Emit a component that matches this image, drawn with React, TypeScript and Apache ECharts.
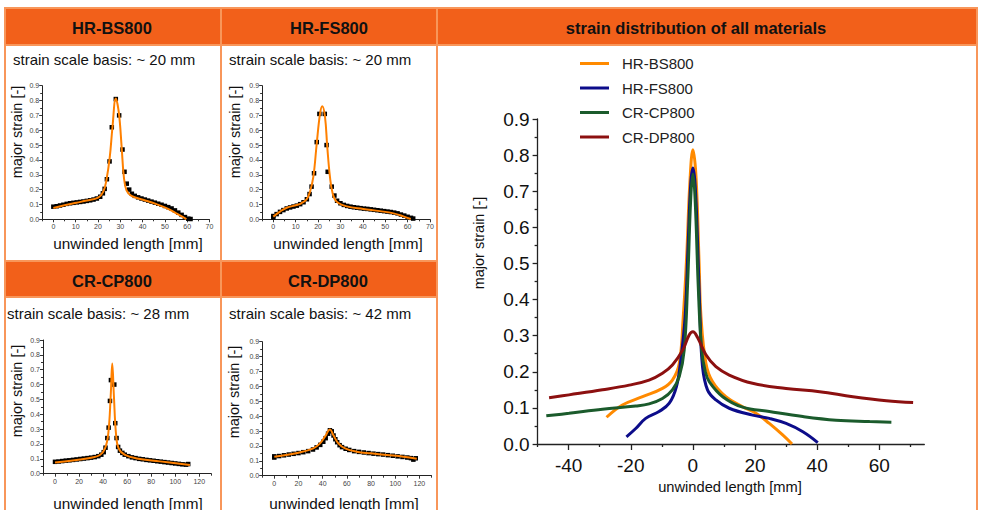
import React, { useEffect, useRef } from 'react';
import * as echarts from 'echarts';

const FONT = '"Liberation Sans", Arial, Helvetica, sans-serif';

// ---------- data ----------
const materials = ['HR-BS800', 'HR-FS800', 'CR-CP800', 'CR-DP800'];
const scaleBasis = [
  'strain scale basis: ~ 20 mm',
  'strain scale basis: ~ 20 mm',
  'strain scale basis: ~ 28 mm',
  'strain scale basis: ~ 42 mm',
];
const bigTitle = 'strain distribution of all materials';
const xName = 'unwinded length [mm]';
const yName = 'major strain [-]';

const yMax = 0.9;
const yStep = 0.1;
const xTicksShort = [0, 10, 20, 30, 40, 50, 60, 70];
const xMinorShort = [-5, 5, 15, 25, 35, 45, 55, 65];
const xTicksLong = [0, 20, 40, 60, 80, 100, 120];
const xMinorLong = [-10, 10, 30, 50, 70, 90, 110, 130];
const xTicksAll = [-40, -20, 0, 20, 40, 60];
const xMinorAll = [-50, -30, -10, 10, 30, 50, 70];
const xRangeShort = [-5, 70];
const xRangeLong = [-10, 130];
const xRangeAll = [-50, 74.5];

// measured points (black squares), unwinded length [mm] vs major strain
const measBS = [[0,0.085],[1.5,0.088],[3,0.093],[4.5,0.098],[6,0.104],[7.5,0.108],[9,0.111],[10.5,0.114],[12,0.117],[13.5,0.12],[15,0.124],[16.5,0.128],[18,0.133],[19.5,0.14],[21,0.152],[22.2,0.175],[23,0.205],[24,0.27],[25.2,0.39],[26.2,0.62],[28,0.81],[29.5,0.7],[31,0.47],[31.9,0.32],[32.9,0.24],[34,0.2],[35.2,0.172],[36.5,0.158],[38,0.148],[39.5,0.14],[41,0.133],[42.5,0.126],[44,0.119],[45.5,0.112],[47,0.105],[48.5,0.098],[50,0.09],[51.5,0.082],[53,0.073],[54.5,0.06],[56,0.045],[57.5,0.03],[59,0.015],[60.5,0.004],[61.5,0.002]];
const measFS = [[0,0.022],[0,0.012],[1.5,0.035],[3,0.05],[4.5,0.062],[6,0.073],[7.5,0.08],[9,0.086],[10.5,0.092],[12,0.102],[13.5,0.115],[15,0.135],[16.2,0.17],[17.1,0.22],[18.2,0.31],[19.4,0.52],[20.6,0.71],[23,0.71],[23.8,0.5],[24.3,0.32],[26.1,0.22],[27.3,0.16],[28.5,0.125],[30,0.108],[31.5,0.097],[33,0.09],[34.5,0.085],[36,0.081],[37.5,0.078],[39,0.075],[40.5,0.072],[42,0.07],[43.5,0.067],[45,0.064],[46.5,0.061],[48,0.058],[49.5,0.055],[51,0.052],[52.5,0.049],[54,0.045],[55.5,0.04],[57,0.032],[58.5,0.025],[60,0.017],[61.5,0.01],[62.5,0.005]];
const measCP = [[0,0.08],[3,0.082],[6,0.085],[9,0.088],[12,0.09],[15,0.093],[18,0.096],[21,0.099],[24,0.102],[27,0.105],[30,0.108],[33,0.112],[36,0.118],[38.5,0.128],[40.5,0.145],[42,0.175],[43.5,0.24],[44.6,0.31],[45.7,0.49],[46.5,0.63],[49.3,0.6],[50.1,0.34],[51.2,0.24],[52.5,0.18],[54,0.155],[56,0.14],[58,0.128],[61,0.118],[64,0.11],[67,0.105],[70,0.1],[73,0.097],[76,0.093],[79,0.09],[82,0.087],[85,0.084],[88,0.081],[91,0.078],[94,0.075],[97,0.072],[100,0.069],[103,0.066],[106,0.063],[109,0.061],[110.8,0.065]];
const measDP = [[0,0.122],[0,0.13],[4,0.132],[8,0.137],[12,0.142],[16,0.147],[20,0.152],[24,0.158],[28,0.165],[32,0.176],[35,0.19],[38,0.207],[40.5,0.228],[42.5,0.252],[44.5,0.282],[46,0.305],[47.5,0.298],[49,0.27],[50.5,0.245],[52,0.225],[54,0.205],[56,0.192],[59,0.181],[62,0.173],[66,0.165],[70,0.16],[74,0.156],[78,0.152],[82,0.148],[86,0.145],[90,0.142],[94,0.138],[98,0.134],[102,0.13],[106,0.126],[110,0.122],[113,0.118],[115,0.108],[117,0.117]];

// fitted curves (orange) in the single plots
const fitBS = [[0,0.076],[5,0.095],[10.4,0.112],[15,0.126],[20.1,0.146],[22.4,0.186],[23.8,0.265],[25.3,0.42],[26.5,0.62],[28,0.814],[29.4,0.713],[30.6,0.49],[31.6,0.287],[32.8,0.195],[35,0.158],[40.2,0.132],[46.2,0.102],[50.7,0.075],[55.1,0.04],[58.9,0.008],[59.6,0]];
const fitFS = [[0,0.018],[3,0.052],[6,0.078],[10.4,0.096],[12.5,0.108],[14.9,0.135],[16.4,0.186],[17.9,0.287],[19.4,0.51],[20.9,0.713],[21.9,0.762],[23.1,0.69],[24.1,0.49],[25.3,0.287],[26.5,0.175],[28.3,0.119],[32.8,0.087],[40.2,0.07],[47.7,0.055],[53.7,0.04],[58.1,0.02],[61.4,0.002]];
const fitCP = [[0,0.076],[20.8,0.096],[30,0.108],[37.4,0.126],[41.6,0.17],[44.3,0.27],[46.3,0.52],[47.6,0.742],[49,0.52],[50.7,0.27],[52.9,0.17],[58.2,0.126],[67.9,0.103],[87.3,0.083],[112.2,0.058]];
const fitDP = [[0,0.128],[20,0.154],[32.3,0.183],[37.8,0.217],[41.9,0.262],[46.1,0.311],[48.8,0.273],[53,0.217],[58.5,0.183],[68.1,0.161],[80,0.15],[93,0.139],[106.8,0.128],[117.8,0.114]];

// all materials, length relative to the strain peak [mm]
const allBS = [[-27.8,0.074],[-22.7,0.108],[-16.2,0.131],[-9.8,0.154],[-6.6,0.177],[-4.4,0.223],[-3.1,0.353],[-2,0.52],[-1,0.72],[0,0.815],[1,0.74],[2,0.5],[2.6,0.353],[4.2,0.223],[6.3,0.173],[10.6,0.131],[16,0.103],[20.3,0.085],[24.6,0.057],[28.9,0.025],[31.9,0]];
const allFS = [[-21.4,0.02],[-18.4,0.043],[-15.2,0.071],[-10.9,0.09],[-7.6,0.113],[-5.3,0.159],[-3.9,0.233],[-2.5,0.353],[-1.5,0.56],[-0.7,0.72],[0,0.764],[0.7,0.72],[1.5,0.56],[2.3,0.35],[3.1,0.214],[4.7,0.15],[7.4,0.122],[11.7,0.099],[19.2,0.08],[24.6,0.071],[30,0.057],[35.4,0.034],[40.2,0.004]];
const allCP = [[-47.2,0.078],[-39.9,0.085],[-29.1,0.096],[-18.4,0.105],[-14.1,0.111],[-9.8,0.126],[-6.6,0.15],[-4.4,0.187],[-2.8,0.26],[-1.7,0.445],[-0.7,0.68],[0,0.748],[0.7,0.68],[1.8,0.42],[2.8,0.26],[4,0.2],[5.3,0.172],[9.6,0.131],[16,0.102],[24.6,0.09],[35.4,0.076],[46.1,0.066],[56.9,0.062],[63.9,0.06]];
const allDP = [[-46.3,0.128],[-39.9,0.136],[-29.1,0.15],[-20.5,0.163],[-14.1,0.177],[-9.8,0.196],[-6.6,0.219],[-3.3,0.26],[-1.2,0.302],[0,0.311],[1.5,0.295],[4.2,0.247],[7.4,0.214],[11.7,0.191],[19.2,0.168],[30,0.154],[40.8,0.145],[51.5,0.131],[62.3,0.12],[70.9,0.115]];

// ---------- styles / layout ----------
const lineColors = ['#FF8A00', '#0C0C8A', '#1B5B2C', '#8C1010'];
const fitColor = '#FF8000';
const headerFill = '#F2601A';
const borderColor = '#F8965A';

const measured = [measBS, measFS, measCP, measDP];
const fits = [fitBS, fitFS, fitCP, fitDP];
const allCurves = [allBS, allFS, allCP, allDP];

const smallGrids = [
  { left: 42.2, top: 85.7, width: 167.3, height: 133.6 },
  { left: 262.1, top: 85.7, width: 167.9, height: 133.6 },
  { left: 43, top: 340, width: 168.3, height: 133.7 },
  { left: 262.2, top: 341.7, width: 169.3, height: 134 },
];
const smallX = [
  { range: xRangeShort, major: xTicksShort, minor: xMinorShort },
  { range: xRangeShort, major: xTicksShort, minor: xMinorShort },
  { range: xRangeLong, major: xTicksLong, minor: xMinorLong },
  { range: xRangeLong, major: xTicksLong, minor: xMinorLong },
];
const bigGrid = { left: 537.6, top: 119, width: 386.7, height: 325 };

const headerPos = [
  { x: 112, y: 27.5 }, { x: 329, y: 27.5 }, { x: 112, y: 280.5 }, { x: 328, y: 280.5 },
];
const basisPos = [{ x: 13, y: 59 }, { x: 229, y: 59 }, { x: 7, y: 313 }, { x: 229, y: 313 }];
const yNamePos = [{ x: 17, y: 132 }, { x: 235, y: 132 }, { x: 17, y: 391 }, { x: 234, y: 392 }];
const xNamePos = [{ x: 128, y: 243 }, { x: 348, y: 243 }, { x: 128, y: 503 }, { x: 344, y: 503 }];

function txt(text: string, x: number, y: number, size: number, opts: any = {}) {
  return {
    type: 'text',
    x,
    y,
    rotation: opts.rotation || 0,
    z: 10,
    style: {
      text,
      font: `${opts.bold ? 'bold ' : ''}${size}px ${FONT}`,
      fill: opts.color || '#111',
      textAlign: opts.align || 'center',
      textVerticalAlign: 'middle',
    },
  };
}

function hLine(x1: number, x2: number, y: number) {
  return { type: 'line', z: 5, shape: { x1, y1: y, x2, y2: y }, style: { stroke: borderColor, lineWidth: 2 } };
}
function vLine(x: number, y1: number, y2: number) {
  return { type: 'line', z: 5, shape: { x1: x, y1, x2: x, y2 }, style: { stroke: borderColor, lineWidth: 2 } };
}

function buildOption() {
  const grid: any[] = [];
  const xAxis: any[] = [];
  const yAxis: any[] = [];
  const series: any[] = [];

  smallGrids.forEach((g, i) => {
    grid.push({ ...g, containLabel: false });
    const sx = smallX[i];
    xAxis.push({
      type: 'value', gridIndex: i, min: sx.range[0], max: sx.range[1], position: 'bottom',
      axisLine: { show: true, onZero: false, lineStyle: { color: '#222', width: 1 } },
      axisTick: { show: true, customValues: sx.major, length: 3, lineStyle: { color: '#333' } },
      axisLabel: { show: true, customValues: sx.major, fontSize: 7, color: '#444', margin: 4, fontFamily: FONT },
      splitLine: { show: false },
    });
    xAxis.push({
      type: 'value', gridIndex: i, min: sx.range[0], max: sx.range[1], position: 'bottom',
      axisLine: { show: false, onZero: false },
      axisTick: { show: true, customValues: sx.minor, length: 2, lineStyle: { color: '#333' } },
      axisLabel: { show: false },
      splitLine: { show: false },
    });
    yAxis.push({
      type: 'value', gridIndex: i, min: 0, max: yMax, interval: yStep,
      axisLine: { show: true, onZero: false, lineStyle: { color: '#222', width: 1 } },
      axisTick: { show: true, length: 3, lineStyle: { color: '#333' } },
      minorTick: { show: true, splitNumber: 2, length: 2, lineStyle: { color: '#333' } },
      axisLabel: { fontSize: 7, color: '#444', margin: 3, fontFamily: FONT, formatter: (v: number) => v.toFixed(1) },
      splitLine: { show: false },
      minorSplitLine: { show: false },
    });
    series.push({
      type: 'scatter', name: materials[i] + ' measured', xAxisIndex: 2 * i, yAxisIndex: i,
      data: measured[i], symbol: 'rect', symbolSize: 4.5, itemStyle: { color: '#000', opacity: 1 }, z: 2,
    });
    series.push({
      type: 'line', name: materials[i] + ' fit', xAxisIndex: 2 * i, yAxisIndex: i,
      data: fits[i], smooth: 0.4, showSymbol: false, lineStyle: { color: fitColor, width: 2 },
      itemStyle: { color: fitColor }, z: 3,
    });
  });

  grid.push({ ...bigGrid, containLabel: false });
  xAxis.push({
    type: 'value', gridIndex: 4, min: xRangeAll[0], max: xRangeAll[1], position: 'bottom',
    axisLine: { show: true, onZero: false, lineStyle: { color: '#222', width: 1.3 } },
    axisTick: { show: true, customValues: xTicksAll, length: 6, lineStyle: { color: '#222', width: 1.3 } },
    axisLabel: { show: true, customValues: xTicksAll, fontSize: 19, color: '#111', margin: 12, fontFamily: FONT },
    splitLine: { show: false },
  });
  xAxis.push({
    type: 'value', gridIndex: 4, min: xRangeAll[0], max: xRangeAll[1], position: 'bottom',
    axisLine: { show: false, onZero: false },
    axisTick: { show: true, customValues: xMinorAll, length: 3, lineStyle: { color: '#222', width: 1.3 } },
    axisLabel: { show: false },
    splitLine: { show: false },
  });
  yAxis.push({
    type: 'value', gridIndex: 4, min: 0, max: yMax, interval: yStep,
    axisLine: { show: true, onZero: false, lineStyle: { color: '#222', width: 1.3 } },
    axisTick: { show: true, length: 5, lineStyle: { color: '#222', width: 1.3 } },
    minorTick: { show: true, splitNumber: 2, length: 3, lineStyle: { color: '#222', width: 1.3 } },
    axisLabel: { fontSize: 19, color: '#111', margin: 8, fontFamily: FONT, formatter: (v: number) => v.toFixed(1) },
    splitLine: { show: false },
    minorSplitLine: { show: false },
  });
  allCurves.forEach((d, i) => {
    series.push({
      type: 'line', name: materials[i], xAxisIndex: 8, yAxisIndex: 4, data: d,
      smooth: 0.4, showSymbol: false, color: lineColors[i],
      lineStyle: { color: lineColors[i], width: 3 }, itemStyle: { color: lineColors[i] }, z: 3 + i,
    });
  });

  const graphic: any[] = [
    { type: 'rect', z: 1, shape: { x: 4, y: 8, width: 973, height: 37 }, style: { fill: headerFill } },
    { type: 'rect', z: 1, shape: { x: 4, y: 261, width: 433, height: 36 }, style: { fill: headerFill } },
    hLine(4, 978, 8), hLine(4, 978, 45), hLine(4, 437, 261), hLine(4, 437, 297),
    vLine(5, 8, 510), vLine(221, 8, 510), vLine(437, 8, 510), vLine(977, 8, 510),
    txt(bigTitle, 696, 27.5, 16.5, { bold: true }),
  ];
  materials.forEach((m, i) => {
    graphic.push(txt(m, headerPos[i].x, headerPos[i].y, 16.5, { bold: true }));
    graphic.push(txt(scaleBasis[i], basisPos[i].x, basisPos[i].y, 15, { align: 'left' }));
    graphic.push(txt(yName, yNamePos[i].x, yNamePos[i].y, 14.5, { rotation: Math.PI / 2 }));
    graphic.push(txt(xName, xNamePos[i].x, xNamePos[i].y, 15.3));
  });
  graphic.push(txt(yName, 479, 243, 14.5, { rotation: Math.PI / 2 }));
  graphic.push(txt(xName, 730, 487, 14.7));

  return {
    animation: false,
    backgroundColor: '#fff',
    textStyle: { fontFamily: FONT },
    grid,
    xAxis,
    yAxis,
    series,
    legend: {
      data: materials,
      orient: 'vertical',
      left: 580,
      top: 56,
      padding: 0,
      icon: 'rect',
      itemWidth: 29,
      itemHeight: 3,
      itemGap: 9.5,
      selectedMode: false,
      textStyle: { fontSize: 15, fontFamily: FONT, color: '#222', padding: [0, 0, 0, 8] },
    },
    graphic,
  };
}

export default function App() {
  const ref = useRef<HTMLDivElement>(null);
  useEffect(() => {
    if (!ref.current) return;
    const chart = echarts.init(ref.current, null, { renderer: 'svg' });
    chart.setOption(buildOption() as any);
    return () => chart.dispose();
  }, []);
  return (
    <div
      ref={ref}
      style={{ position: 'absolute', left: 0, top: 0, width: 981, height: 510, background: '#fff' }}
    />
  );
}
